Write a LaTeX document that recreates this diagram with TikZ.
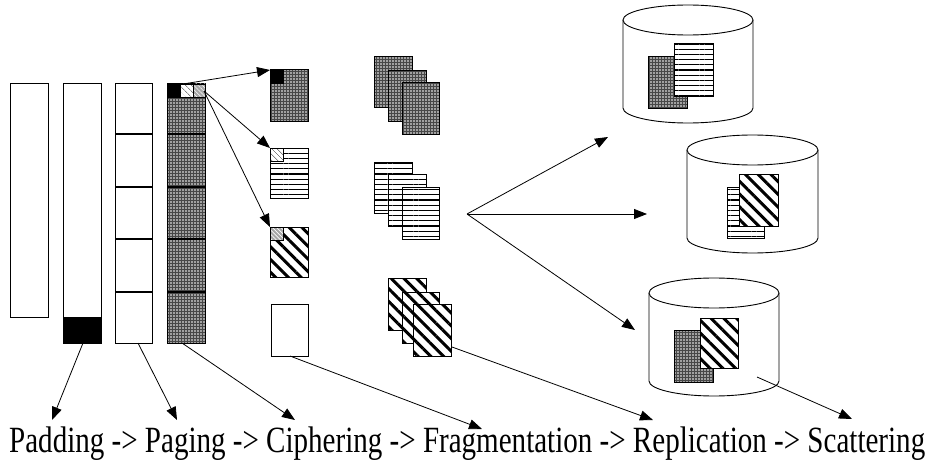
\documentclass[tikz,border=0pt]{standalone}
\usepackage{fontspec}
\setmainfont{Liberation Serif}
\usetikzlibrary{patterns.meta,arrows.meta}
\begin{document}
\begin{tikzpicture}[x=1pt,y=-1pt,
  box/.style={draw, line width=1pt, inner sep=0pt, outer sep=0pt, anchor=north west, minimum width=38pt, minimum height=#1},
  box/.default=51pt,
  sq/.style={draw, line width=0.8pt, inner sep=0pt, outer sep=0pt, anchor=north west, minimum width=13pt, minimum height=13pt},
  chk/.style={preaction={fill=black!72}, pattern={Dots[distance=3pt,radius=0.85pt]}, pattern color=white},
  hln/.style={preaction={fill=white}, pattern={Lines[angle=0,distance=5.2pt,line width=1.1pt]}, pattern color=black},
  hat/.style={preaction={fill=white}, pattern={Lines[angle=-45,distance=9pt,line width=3pt]}, pattern color=black},
  lhat/.style={preaction={fill=white}, pattern={Lines[angle=-45,distance=4pt,line width=0.6pt]}, pattern color=black!75},
  ghat/.style={preaction={fill=black!35}, pattern={Lines[angle=-45,distance=3pt,line width=0.6pt]}, pattern color=white},
  arr/.style={-{Triangle[length=13pt,width=10pt]}, line width=0.8pt},
  div/.style={line width=2pt},
  disk/.style={draw, fill=white, line width=0.9pt}
]
\useasboundingbox (0,0) rectangle (930,460);

% ---- columns
\node[box=233pt] (c1) at (10,84) {};
\node[box=259pt] (c2) at (63,84) {};
\node[box=26pt, fill=black] (c2pad) at (63,317) {};
\node[box=259pt, minimum width=37pt] (c3) at (115,84) {};
\foreach \yy in {134,187,239,292} \draw[div] (115,\yy) -- (152,\yy);
\node[box=259pt, chk] (c4) at (167,84) {};
\foreach \yy in {134,187,239,292} \draw[div] (167,\yy) -- (205,\yy);
\node[sq, fill=black] (k1) at (167,84) {};
\node[sq, lhat] (k2) at (180,84) {};
\node[sq, ghat, minimum width=12pt] (k3) at (193,84) {};

% ---- fragments
\node[box=52pt, chk] (f1) at (270,70) {};
\node[sq, fill=black] (f1k) at (270,70) {};
\node[box=50pt, hln] (f2) at (270,148) {};
\node[sq, lhat] (f2k) at (270,148) {};
\node[box=50pt, hat] (f3) at (270,227) {};
\node[sq, ghat] (f3k) at (270,227) {};
\node[box=52pt, minimum width=37pt, fill=white] (f4) at (271,304) {};

% ---- stacks
\node[box=51pt, chk] (s1a) at (374,57) {};
\node[box=51pt, chk] (s1b) at (388,71) {};
\node[box=51pt, chk, minimum width=37pt] (s1c) at (402,83) {};
\node[box=51pt, hln] (s2a) at (374,162) {};
\node[box=52pt, hln] (s2b) at (388,174) {};
\node[box=52pt, hln, minimum width=37pt] (s2c) at (402,187) {};
\node[box=52pt, hat] (s3a) at (388,278) {};
\node[box=51pt, hat, minimum width=37pt] (s3b) at (402,292) {};
\node[box=52pt, hat] (s3c) at (413,304) {};

% ---- disks
\path[disk] (623,20) -- (623,108) arc[start angle=180,end angle=360,x radius=65pt,y radius=15pt] -- (753,20);
\draw[disk] (688,20) ellipse[x radius=65pt, y radius=15pt];
\node[box=52pt, chk, minimum width=39pt] (d1a) at (648,57) {};
\node[box=53pt, hln, minimum width=39pt] (d1b) at (674,44) {};

\path[disk] (687,150) -- (687,238) arc[start angle=180,end angle=360,x radius=65.5pt,y radius=15pt] -- (818,150);
\draw[disk] (752.5,150) ellipse[x radius=65.5pt, y radius=15pt];
\node[box=51pt, hln, minimum width=37pt] (d2a) at (727,187) {};
\node[box=52pt, hat, minimum width=39pt] (d2b) at (739,174) {};

\path[disk] (649,293) -- (649,381) arc[start angle=180,end angle=360,x radius=65pt,y radius=15pt] -- (779,293);
\draw[disk] (714,293) ellipse[x radius=65pt, y radius=15pt];
\node[box=52pt, chk, minimum width=39pt] (d3a) at (674,330) {};
\node[box=50pt, hat] (d3b) at (700,318) {};

% ---- label
\node[anchor=base west, inner sep=0pt, font=\fontsize{37pt}{37pt}\selectfont] (lbl) at (9,452)
  {\scalebox{0.785}[1]{Padding -> Paging -> Ciphering -> Fragmentation -> Replication -> Scattering}};

% ---- connectors
\coordinate (a1s) at (183,84);
\coordinate (a23s) at (204,91);
\draw[arr] (a1s) -- (f1.north west);
\draw[arr] (a23s) -- (f2.north west);
\draw[arr] (a23s) -- (f3.north west);

\coordinate (fan) at (467,214);
\coordinate (t1) at (608,137);
\coordinate (t2) at (647,214);
\coordinate (t3) at (635,330);
\draw[arr] (fan) -- (t1);
\draw[arr] (fan) -- (t2);
\draw[arr] (fan) -- (t3);

\coordinate (b1s) at (83,343);   \coordinate (b1t) at (52,420);
\coordinate (b2s) at (138,343);  \coordinate (b2t) at (177,420);
\coordinate (b3s) at (182,343);  \coordinate (b3t) at (295,420);
\coordinate (b4s) at (290,356);  \coordinate (b4t) at (482,429);
\coordinate (b5s) at (452,347);  \coordinate (b5t) at (653,420);
\coordinate (b6s) at (757,377);  \coordinate (b6t) at (852,419);
\draw[arr] (b1s) -- (b1t);
\draw[arr] (b2s) -- (b2t);
\draw[arr] (b3s) -- (b3t);
\draw[arr] (b4s) -- (b4t);
\draw[arr] (b5s) -- (b5t);
\draw[arr] (b6s) -- (b6t);
\end{tikzpicture}
\end{document}
